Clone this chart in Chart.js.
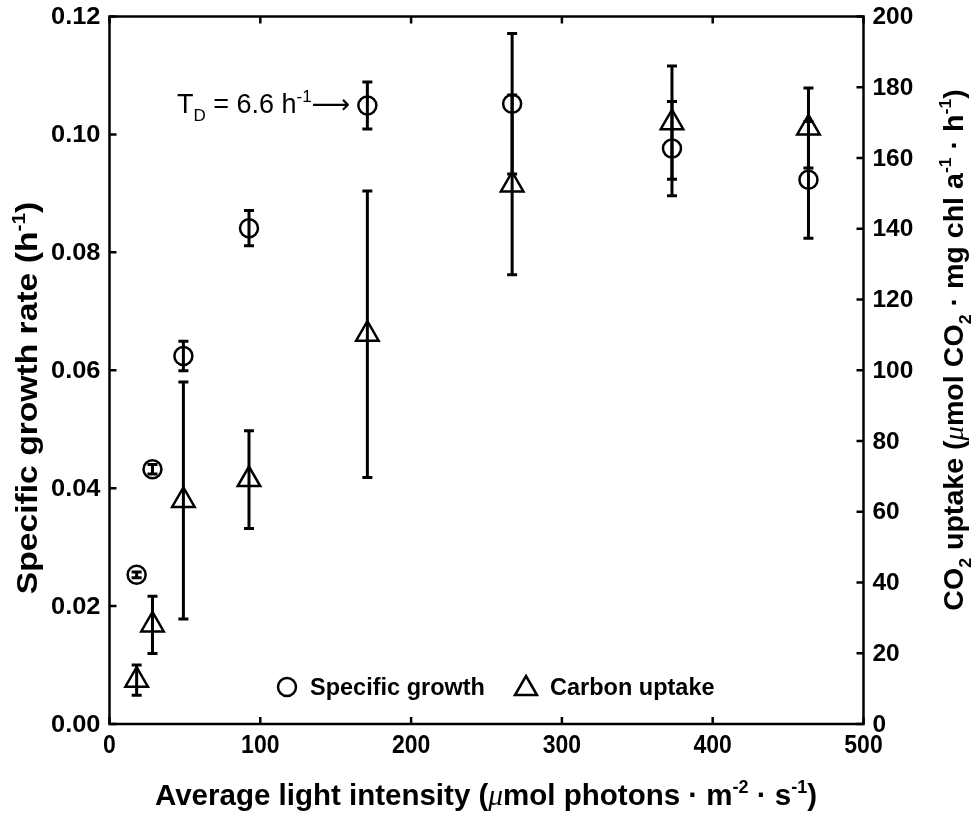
<!DOCTYPE html>
<html>
<head>
<meta charset="utf-8">
<script src="https://cdn.jsdelivr.net/npm/chart.js@4.4.1/dist/chart.umd.min.js"></script>
<style>
body { margin: 0; background: #fff; }
#wrap { width: 977px; height: 814px; }
</style>
</head>
<body>
<div id="wrap"><canvas id="lightChart"></canvas></div>
<script>
// values
const lightIntensity = [18, 28.5, 49, 92.5, 171, 267, 373, 463.5];
const growthRate = [0.0253, 0.0432, 0.0624, 0.0841, 0.1049, 0.1052, 0.0976, 0.0923];
const growthErr = [0.0005, 0.0008, 0.0025, 0.003, 0.004, 0.0119, 0.008, 0.0099];
const carbonUptake = [12.4, 28.0, 63.2, 69.1, 110.2, 152.4, 170.0, 168.5];
const carbonErr = [4.3, 8.1, 33.5, 13.8, 40.5, 25.4, 16, 11.3];
const xTicks = [0, 100, 200, 300, 400, 500];
const leftTicks = [0, 0.02, 0.04, 0.06, 0.08, 0.10, 0.12];
const rightTicks = [0, 20, 40, 60, 80, 100, 120, 140, 160, 180, 200];

const FONT = '"Liberation Sans", Arial, sans-serif';

// draws text made of normal / superscript / subscript / mu pieces, sx stretches along the text
function richText(ctx, parts, x, y, size, weight, rotate, align, sx) {
   ctx.save();
   ctx.translate(x, y);
   if (rotate) ctx.rotate(rotate);
   ctx.scale(sx || 1, 1);
   ctx.textBaseline = 'alphabetic';
   ctx.textAlign = 'left';
   const fontFor = function(kind) {
      if (kind === 'sup' || kind === 'sub') return weight + ' ' + Math.round(size * 0.62) + 'px ' + FONT;
      if (kind === 'mu') return 'italic ' + size + 'px "Liberation Serif", serif';
      if (kind === 'arrow') return 'normal ' + size + 'px "DejaVu Sans", sans-serif';
      return weight + ' ' + size + 'px ' + FONT;
   };
   let total = 0;
   parts.forEach(function(p) { ctx.font = fontFor(p[1]); total += ctx.measureText(p[0]).width; });
   let cx = align === 'left' ? 0 : -total / 2;
   parts.forEach(function(p) {
      ctx.font = fontFor(p[1]);
      let dy = 0;
      if (p[1] === 'sup') dy = -size * 0.42;
      if (p[1] === 'sub') dy = size * 0.3;
      ctx.fillStyle = '#000';
      ctx.fillText(p[0], cx, dy);
      cx += ctx.measureText(p[0]).width;
   });
   ctx.restore();
}

function tickText(ctx, text, x, y, size, align, sx) {
   ctx.save();
   ctx.translate(x, y);
   ctx.scale(sx, 1);
   ctx.font = 'bold ' + size + 'px ' + FONT;
   ctx.fillStyle = '#000';
   ctx.textAlign = align;
   ctx.textBaseline = 'middle';
   ctx.fillText(text, 0, 0);
   ctx.restore();
}

const errorBars = {
   id: 'errorBars',
   beforeDatasetsDraw(chart) {
      const ctx = chart.ctx;
      ctx.save();
      ctx.strokeStyle = '#000';
      ctx.lineWidth = 3;
      chart.data.datasets.forEach(function(ds) {
         const xs = chart.scales.x, ys = chart.scales[ds.yAxisID];
         ds.data.forEach(function(p, j) {
            const e = ds.errors[j];
            const px = xs.getPixelForValue(p.x);
            const top = ys.getPixelForValue(p.y + e), bot = ys.getPixelForValue(p.y - e);
            ctx.beginPath();
            ctx.moveTo(px, top); ctx.lineTo(px, bot);
            ctx.moveTo(px - 5, top); ctx.lineTo(px + 5, top);
            ctx.moveTo(px - 5, bot); ctx.lineTo(px + 5, bot);
            ctx.stroke();
         });
      });
      ctx.restore();
   }
};

const frameAndText = {
   id: 'frameAndText',
   afterDraw(chart) {
      const ctx = chart.ctx, a = chart.chartArea, s = chart.scales;
      ctx.save();
      ctx.strokeStyle = '#000';
      ctx.lineWidth = 2.5;
      ctx.strokeRect(a.left, a.top, a.right - a.left, a.bottom - a.top);
      ctx.beginPath();
      s.x.ticks.forEach(function(t) {
         const px = s.x.getPixelForValue(t.value);
         ctx.moveTo(px, a.bottom); ctx.lineTo(px, a.bottom - 7);
         ctx.moveTo(px, a.top); ctx.lineTo(px, a.top + 7);
      });
      s.y.ticks.forEach(function(t) {
         const py = s.y.getPixelForValue(t.value);
         ctx.moveTo(a.left, py); ctx.lineTo(a.left + 7, py);
      });
      s.y2.ticks.forEach(function(t) {
         const py = s.y2.getPixelForValue(t.value);
         ctx.moveTo(a.right, py); ctx.lineTo(a.right - 7, py);
      });
      ctx.stroke();

      // tick labels
      s.x.ticks.forEach(function(t) {
         tickText(ctx, String(t.value), s.x.getPixelForValue(t.value), a.bottom + 22, 25, 'center', 0.92);
      });
      s.y.ticks.forEach(function(t) {
         tickText(ctx, Number(t.value).toFixed(2), a.left - 9, s.y.getPixelForValue(t.value) + 1, 24, 'right', 1.06);
      });
      s.y2.ticks.forEach(function(t) {
         tickText(ctx, String(t.value), a.right + 9, s.y2.getPixelForValue(t.value) + 1, 24, 'left', 1.02);
      });

      // legend
      const ly = a.bottom - 37;
      ctx.lineWidth = 2.5;
      ctx.beginPath();
      ctx.arc(287, ly, 9, 0, Math.PI * 2);
      ctx.stroke();
      ctx.beginPath();
      ctx.moveTo(526, ly - 11); ctx.lineTo(537, ly + 8); ctx.lineTo(515, ly + 8); ctx.closePath();
      ctx.stroke();
      ctx.font = 'bold 23.5px ' + FONT;
      ctx.fillStyle = '#000';
      ctx.textBaseline = 'alphabetic';
      ctx.fillText('Specific growth', 310, ly + 8);
      ctx.fillText('Carbon uptake', 550, ly + 8);
      ctx.restore();

      // axis titles
      richText(ctx, [['Average light intensity (', 'n'], ['\u03bc', 'mu'], ['mol photons \u00b7 m', 'n'], ['-2', 'sup'], [' \u00b7 s', 'n'], ['-1', 'sup'], [')', 'n']],
         486, 805, 29.5, 'bold', 0);
      richText(ctx, [['Specific growth rate (h', 'n'], ['-1', 'sup'], [')', 'n']],
         37, 398, 29, 'bold', -Math.PI / 2, 'center', 1.16);
      richText(ctx, [['CO', 'n'], ['2', 'sub'], [' uptake (', 'n'], ['\u03bc', 'mu'], ['mol CO', 'n'], ['2', 'sub'], [' \u00b7 mg chl a', 'n'], ['-1', 'sup'], [' \u00b7 h', 'n'], ['-1', 'sup'], [')', 'n']],
         963, 350, 27.5, 'bold', -Math.PI / 2, 'center', 1.04);

      // doubling time note
      richText(ctx, [['T', 'n'], ['D', 'sub'], [' = 6.6 h', 'n'], ['-1', 'sup'], ['\u27f6', 'arrow']],
         177, 113, 27, 'normal', 0, 'left');
   }
};

const ctx = document.getElementById('lightChart').getContext('2d');
const lightChart = new Chart(ctx, {
   type: 'scatter',
   data: {
      datasets: [
         {
            label: 'Specific growth',
            data: lightIntensity.map(function(x, i) { return { x: x, y: growthRate[i] }; }),
            errors: growthErr,
            yAxisID: 'y',
            pointStyle: 'circle',
            pointRadius: 9,
            pointBorderWidth: 2.5,
            borderColor: '#000',
            backgroundColor: 'rgba(0,0,0,0)',
            clip: false
         },
         {
            label: 'Carbon uptake',
            data: lightIntensity.map(function(x, i) { return { x: x, y: carbonUptake[i] }; }),
            errors: carbonErr,
            yAxisID: 'y2',
            pointStyle: 'triangle',
            pointRadius: 13,
            pointBorderWidth: 2.5,
            borderColor: '#000',
            backgroundColor: 'rgba(0,0,0,0)',
            clip: false
         }
      ]
   },
   options: {
      responsive: true,
      maintainAspectRatio: false,
      animation: false,
      layout: { padding: { top: 16.5 } },
      plugins: { legend: { display: false }, tooltip: { enabled: false } },
      scales: {
         x: {
            type: 'linear',
            min: 0,
            max: 500,
            afterBuildTicks: function(sc) { sc.ticks = xTicks.map(function(v) { return { value: v }; }); },
            afterFit: function(sc) { sc.height = 90; },
            grid: { display: false, drawTicks: false },
            border: { display: false },
            ticks: { display: false }
         },
         y: {
            type: 'linear',
            position: 'left',
            min: 0,
            max: 0.12,
            afterBuildTicks: function(sc) { sc.ticks = leftTicks.map(function(v) { return { value: v }; }); },
            afterFit: function(sc) { sc.width = 109.5; },
            grid: { display: false, drawTicks: false },
            border: { display: false },
            ticks: { display: false }
         },
         y2: {
            type: 'linear',
            position: 'right',
            min: 0,
            max: 200,
            afterBuildTicks: function(sc) { sc.ticks = rightTicks.map(function(v) { return { value: v }; }); },
            afterFit: function(sc) { sc.width = 113.5; },
            grid: { display: false, drawTicks: false },
            border: { display: false },
            ticks: { display: false }
         }
      }
   },
   plugins: [errorBars, frameAndText]
});
</script>
</body>
</html>
